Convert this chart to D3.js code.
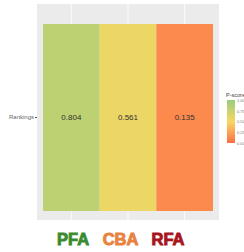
<!DOCTYPE html>
<html lang="en">
  <head>
    <meta charset="UTF-8" />
    <title>P-score rankings</title>
    <style>
      body { margin: 0; background: #fff; }
      text { font-family: "Liberation Sans", Arial, sans-serif; }
    </style>
  </head>
  <body>
    <div id="chart"></div>
    <script src="https://cdn.jsdelivr.net/npm/d3@7"></script>
    <script>
      // data
      const methods = ["PFA", "CBA", "RFA"];
      const rows = ["Rankings"];
      const pscores = [0.804, 0.561, 0.135];
      const legendTicks = [0, 0.25, 0.5, 0.75, 1];
      const labelColors = ["#3b8a30", "#e8823f", "#a8141c"];

      const width = 244, height = 252;
      const panel = { x0: 37, x1: 219, y0: 4, y1: 220 };

      const svg = d3.select("#chart").append("svg")
        .attr("width", width).attr("height", height);

      const x = d3.scaleBand().domain(methods).range([43, 213]);
      const y = d3.scaleBand().domain(rows).range([24, 211]);
      const color = d3.scaleLinear()
        .domain([0, 0.5, 1])
        .range(["#fc6e44", "#f7d763", "#98cd7c"]);

      // grey panel
      svg.append("rect")
        .attr("x", panel.x0).attr("y", panel.y0)
        .attr("width", panel.x1 - panel.x0).attr("height", panel.y1 - panel.y0)
        .attr("fill", "#ebebeb");

      // grid lines
      svg.append("g").selectAll("line")
        .data(methods)
        .join("line")
        .attr("x1", d => x(d) + x.bandwidth() / 2)
        .attr("x2", d => x(d) + x.bandwidth() / 2)
        .attr("y1", panel.y0).attr("y2", panel.y1)
        .attr("stroke", "#fff").attr("stroke-width", 0.8);

      // tiles
      svg.append("g").selectAll("rect")
        .data(pscores)
        .join("rect")
        .attr("x", (d, i) => x(methods[i]))
        .attr("y", y("Rankings"))
        .attr("width", x.bandwidth())
        .attr("height", y.bandwidth())
        .attr("fill", d => color(d));

      svg.append("g").selectAll("text")
        .data(pscores)
        .join("text")
        .attr("x", (d, i) => x(methods[i]) + x.bandwidth() / 2)
        .attr("y", y("Rankings") + y.bandwidth() / 2)
        .attr("dy", "0.35em")
        .attr("text-anchor", "middle")
        .attr("font-size", 8)
        .attr("fill", "#333")
        .text(d => d3.format(".3f")(d));

      // y axis
      const yAxis = d3.axisLeft(y).tickSize(2).tickPadding(1);
      svg.append("g")
        .attr("transform", `translate(${panel.x0},0)`)
        .call(yAxis)
        .call(g => g.select(".domain").remove())
        .call(g => g.selectAll("line").attr("stroke", "#555"))
        .call(g => g.selectAll("text")
          .attr("font-size", 6).attr("fill", "#666")
          .attr("font-family", "Liberation Sans, Arial, sans-serif"));

      // legend
      const lx = 227, ly0 = 100, ly1 = 143;
      const defs = svg.append("defs");
      const grad = defs.append("linearGradient")
        .attr("id", "pgrad").attr("x1", 0).attr("x2", 0).attr("y1", 1).attr("y2", 0);
      grad.selectAll("stop")
        .data(legendTicks)
        .join("stop")
        .attr("offset", d => d)
        .attr("stop-color", d => color(d));

      svg.append("text")
        .attr("x", lx - 1).attr("y", 97)
        .attr("font-size", 5.5).attr("fill", "#444")
        .text("P-score");

      svg.append("rect")
        .attr("x", lx).attr("y", ly0)
        .attr("width", 8).attr("height", ly1 - ly0)
        .attr("fill", "url(#pgrad)");

      const ly = d3.scaleLinear().domain([0, 1]).range([ly1, ly0]);
      svg.append("g")
        .attr("transform", `translate(${lx + 8},0)`)
        .call(d3.axisRight(ly).tickValues(legendTicks).tickSize(0).tickPadding(2)
          .tickFormat(d => d === 1 ? "1.00" : d3.format(".2f")(d)))
        .call(g => g.select(".domain").remove())
        .call(g => g.selectAll("text")
          .attr("font-size", 4).attr("fill", "#777")
          .attr("font-family", "Liberation Sans, Arial, sans-serif"));

      // method labels under the chart (stroke to make them heavier)
      const labelX = d3.scalePoint().domain(methods).range([73, 168]);
      svg.append("g").selectAll("text")
        .data(methods)
        .join("text")
        .attr("x", d => labelX(d))
        .attr("y", 245)
        .attr("text-anchor", "middle")
        .attr("font-family", "Lato, sans-serif")
        .attr("font-weight", 900)
        .attr("font-size", 16.5)
        .attr("fill", (d, i) => labelColors[i])
        .attr("stroke", (d, i) => labelColors[i])
        .attr("stroke-width", 0.9)
        .text(d => d);
    </script>
  </body>
</html>
